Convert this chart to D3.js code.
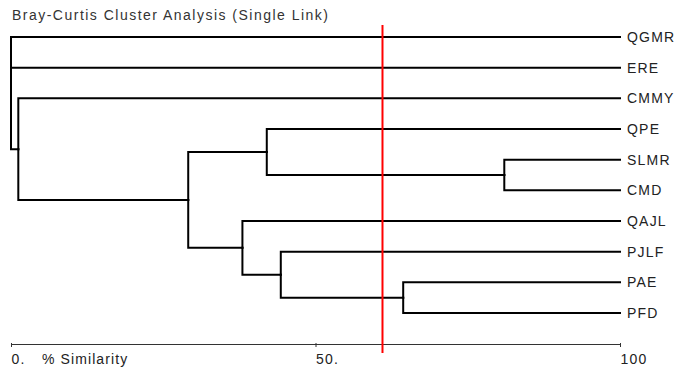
<!DOCTYPE html>
<html>
<head>
<meta charset="utf-8">
<script src="https://cdn.jsdelivr.net/npm/d3@7"></script>
<style>
  html, body { margin: 0; padding: 0; background: #fff; }
  svg { display: block; font-family: "Liberation Sans", Arial, sans-serif; }
</style>
</head>
<body>
<svg id="chart" width="680" height="369"></svg>
<script>
// Leaf order from top to bottom
const leaves = ["QGMR", "ERE", "CMMY", "QPE", "SLMR", "CMD", "QAJL", "PJLF", "PAE", "PFD"];

// Agglomeration steps (m1..m9): the two members joined and the % similarity of the join
const mergeA   = ["SLMR", "PAE", "PJLF", "QPE", "QAJL", "m4", "CMMY", "ERE", "QGMR"];
const mergeB   = ["CMD",  "PFD", "m2",   "m1",  "m3",   "m5", "m6",   "m7",  "m8"];
const mergeSim = [81.0,   64.4,  44.3,   42.0,  38.0,   29.1, 1.2,    0,     0];

// Cut-off level and axis
const cutoff = 61;
const tickValues = [0, 50, 100];
const tickLabels = ["0.", "50.", "100"];
const axisTitle = "% Similarity";
const title = "Bray-Curtis Cluster Analysis (Single Link)";

// Build the tree from the merge list
const nodes = new Map();
leaves.forEach(name => nodes.set(name, { name, sim: 100 }));
mergeA.forEach((a, i) => {
  const name = "m" + (i + 1);
  nodes.set(name, { name, sim: mergeSim[i], children: [nodes.get(a), nodes.get(mergeB[i])] });
});
const root = d3.hierarchy(nodes.get("m" + mergeA.length));

const svg = d3.select("#chart");

const x = d3.scaleLinear().domain([0, 100]).range([11, 620]);
const y = d3.scalePoint().domain(leaves).range([37, 313]);

// Node positions: leaves on their rows, joins centred between their children
root.eachAfter(n => {
  n.px = x(n.data.sim);
  if (n.children) {
    n.py = (n.children[0].py + n.children[n.children.length - 1].py) / 2;
  } else {
    n.py = y(n.data.name);
  }
});

// Title
svg.append("text")
  .attr("x", 12).attr("y", 20)
  .attr("font-size", 14)
  .attr("fill", "#333")
  .attr("textLength", 316)
  .attr("lengthAdjust", "spacing")
  .text(title);

// Dendrogram branches (elbow links)
svg.append("g")
  .attr("fill", "none")
  .attr("stroke", "#000")
  .attr("stroke-width", 2)
  .attr("stroke-linecap", "square")
  .selectAll("path")
  .data(root.links())
  .join("path")
  .attr("d", l => `M${l.source.px},${l.source.py}V${l.target.py}H${l.target.px}`);

// Leaf labels
svg.append("g")
  .attr("font-size", 14)
  .attr("fill", "#222")
  .style("letter-spacing", "1.2px")
  .selectAll("text")
  .data(root.leaves())
  .join("text")
  .attr("x", d => d.px + 7)
  .attr("y", d => d.py + 5)
  .text(d => d.data.name);

// Similarity axis
const axis = svg.append("g")
  .attr("transform", "translate(0,344)")
  .call(d3.axisBottom(x)
    .tickValues(tickValues)
    .tickFormat((d, i) => tickLabels[i])
    .tickSize(3)
    .tickSizeOuter(0));
axis.select(".domain").attr("stroke", "#333");
axis.selectAll(".tick line").attr("stroke", "#333").attr("y1", -1);
axis.selectAll(".tick text")
  .attr("x", 0).attr("y", 20).attr("dy", null)
  .attr("text-anchor", "start")
  .attr("font-family", "Liberation Sans, Arial, sans-serif")
  .attr("font-size", 14)
  .attr("fill", "#222")
  .style("letter-spacing", "1.2px");

svg.append("text")
  .attr("x", 42).attr("y", 364)
  .attr("font-size", 14)
  .attr("fill", "#222")
  .style("letter-spacing", "1.1px")
  .text(axisTitle);

// Cut-off line
svg.append("line")
  .attr("x1", x(cutoff)).attr("x2", x(cutoff))
  .attr("y1", 25).attr("y2", 353)
  .attr("stroke", "#f00")
  .attr("stroke-width", 2);
</script>
</body>
</html>
